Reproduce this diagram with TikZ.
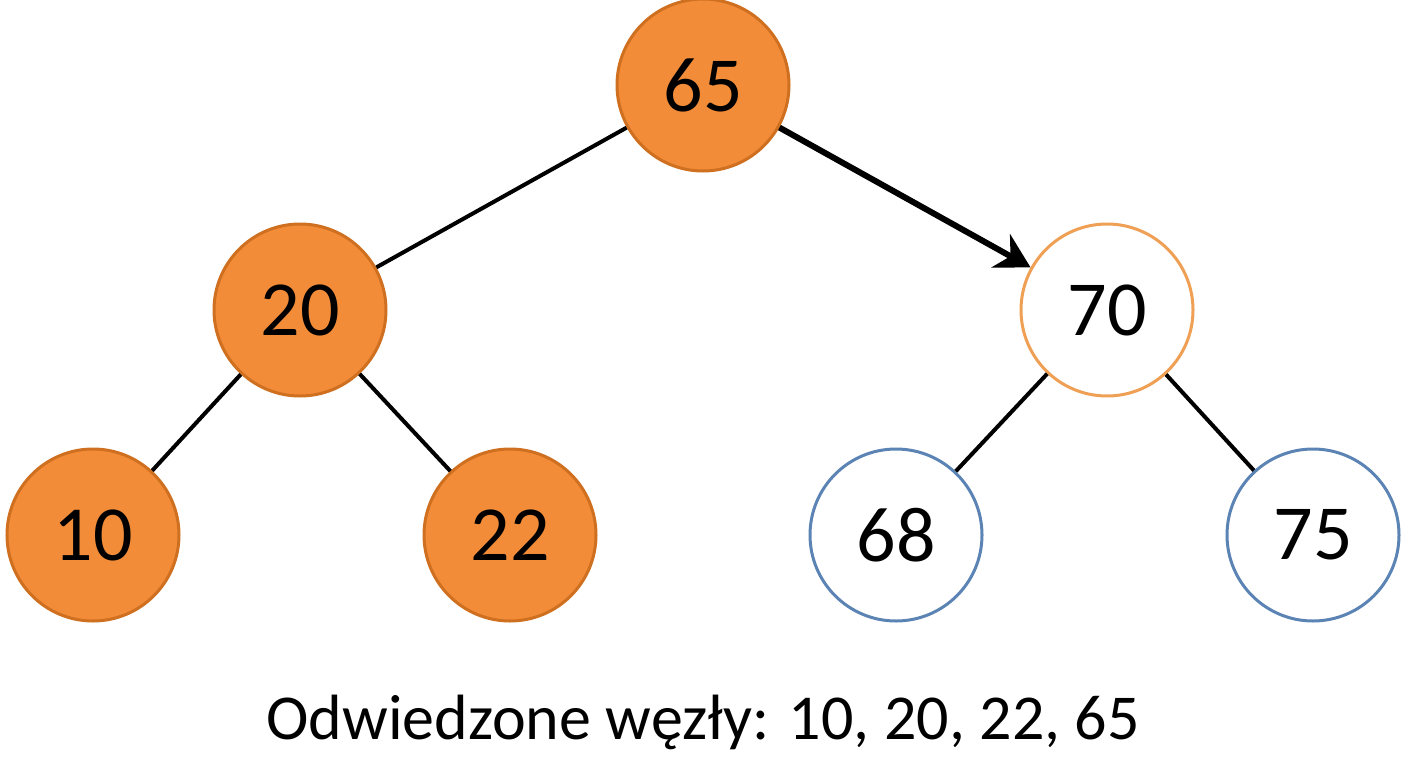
\documentclass[tikz,border=0pt]{standalone}
\usepackage{fontspec}
\setmainfont{Carlito}
\usetikzlibrary{arrows.meta}
\definecolor{of}{HTML}{F28C38}
\definecolor{ob}{HTML}{CF6F20}
\definecolor{ol}{HTML}{EFA055}
\definecolor{bl}{HTML}{5B84B5}
\begin{document}
\begin{tikzpicture}[x=1pt,y=-1pt,
  nd/.style={circle,minimum size=172pt,inner sep=0pt,line width=3pt,font=\fontsize{78}{80}\selectfont},
  vis/.style={nd,fill=of,draw=ob},
  cur/.style={nd,fill=white,draw=ol},
  unv/.style={nd,fill=white,draw=bl},
  ed/.style={line width=4pt,black}]
\useasboundingbox (0,0) rectangle (1408,768);
\node[vis] (n65) at (703,85) {65};
\node[vis] (n20) at (300,310) {20};
\node[cur] (n70) at (1107,310) {70};
\node[vis] (n10) at (93,535) {10};
\node[vis] (n22) at (510,535) {22};
\node[unv] (n68) at (896,535) {68};
\node[unv] (n75) at (1313,535) {75};
\draw[ed] (n65) -- (n20);
\draw[line width=6pt,-{Stealth[length=34pt,width=38pt]}] (n65) -- (n70);
\draw[ed] (n20) -- (n10);
\draw[ed] (n20) -- (n22);
\draw[ed] (n70) -- (n68);
\draw[ed] (n70) -- (n75);
\node[font=\fontsize{64}{66}\selectfont] (cap) at (703,722) {Odwiedzone węzły: 10, 20, 22, 65};
\end{tikzpicture}
\end{document}
